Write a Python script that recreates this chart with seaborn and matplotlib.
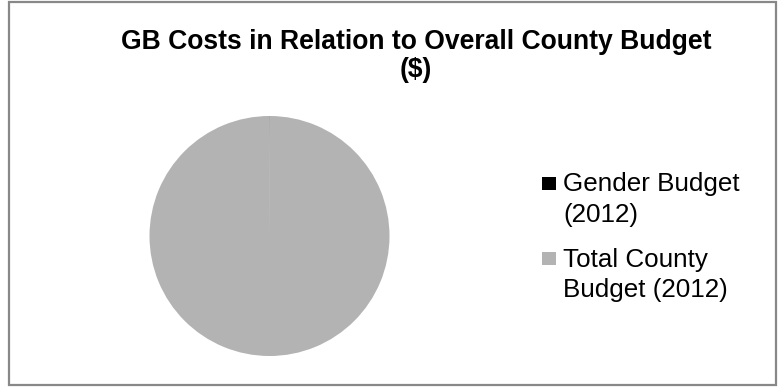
import matplotlib
matplotlib.use("Agg")
import matplotlib.pyplot as plt
import seaborn as sns
from matplotlib.patches import Rectangle

sns.set_theme(style="white")
plt.rcParams['font.family'] = ['Liberation Sans', 'DejaVu Sans']

# Budget figures (USD)
categories = ["Gender Budget\n(2012)", "Total County\nBudget (2012)"]
values = [1_500_000, 3_000_000_000]
colors = ["#000000", "#B3B3B3"]
title_lines = ["GB Costs in Relation to Overall County Budget", "($)"]

W, H = 778, 388
fig = plt.figure(figsize=(W / 100, H / 100), dpi=100)
fig.patch.set_facecolor("white")


def fx(px):
    return px / W


def fy(py):
    return 1 - py / H


# outer frame
fig.patches.append(Rectangle((fx(8.5), fy(384.5)), fx(776 - 8.5), (384.5 - 1.5) / H,
                             transform=fig.transFigure, fill=False,
                             edgecolor="#888888", linewidth=1.6))

# pie, starting at 12 o'clock and running clockwise
r = 120
cx, cy = 269.5, 236
ax = fig.add_axes([fx(cx - r), fy(cy + r), 2 * r / W, 2 * r / H])
wedges, _ = ax.pie(values, colors=colors, startangle=90, counterclock=False,
                   radius=1, wedgeprops=dict(linewidth=0))
ax.set_xlim(-1, 1)
ax.set_ylim(-1, 1)
ax.set_aspect("equal")
ax.axis("off")

# two-line chart title, both lines centred on the same column
for base, line in zip([49, 77], title_lines):
    fig.text(fx(416), fy(base), line, ha="center", va="baseline",
             fontsize=19.1, fontweight="bold", color="black")

# legend: colour squares with wrapped labels beside them
first_baselines = [191.5, 266.5]
line_step = 31
for base, label, color in zip(first_baselines, categories, colors):
    fig.patches.append(Rectangle((fx(542), fy(base - 2)), 14 / W, 13 / H,
                                 transform=fig.transFigure, facecolor=color,
                                 edgecolor="none"))
    for i, line in enumerate(label.split("\n")):
        fig.text(fx(563), fy(base + i * line_step), line, ha="left",
                 va="baseline", fontsize=18.7, color="black")

fig.savefig("out.png", dpi=100)
